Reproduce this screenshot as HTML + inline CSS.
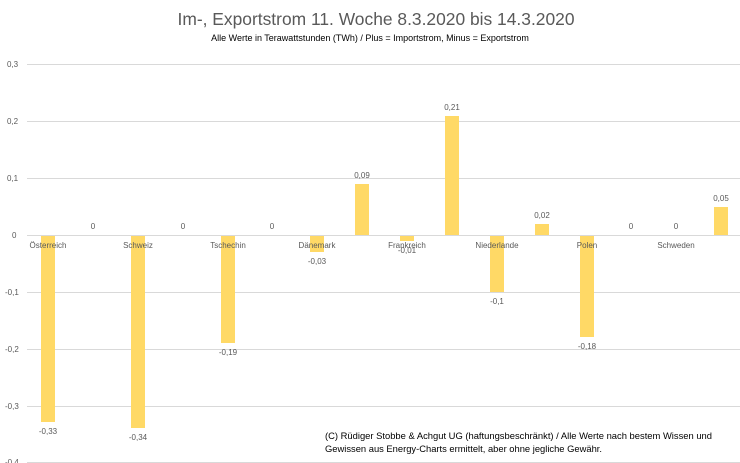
<!DOCTYPE html>
<html><head><meta charset="utf-8"><style>
body{margin:0;background:#fff;}
svg{display:block;font-family:"Liberation Sans",sans-serif;}
</style></head><body>
<svg width="740" height="463" viewBox="0 0 740 463">
<rect width="740" height="463" fill="#fff"/>
<text x="376" y="25" text-anchor="middle" font-size="17.5" fill="#595959" textLength="397" lengthAdjust="spacingAndGlyphs">Im-, Exportstrom 11. Woche 8.3.2020 bis 14.3.2020</text>
<text x="370" y="41" text-anchor="middle" font-size="9" fill="#000">Alle Werte in Terawattstunden (TWh) / Plus = Importstrom, Minus = Exportstrom</text>
<g stroke="#d9d9d9" stroke-width="1">
<line x1="27" x2="740" y1="64.5" y2="64.5"/>
<line x1="27" x2="740" y1="121.5" y2="121.5"/>
<line x1="27" x2="740" y1="178.5" y2="178.5"/>
<line x1="27" x2="740" y1="292.5" y2="292.5"/>
<line x1="27" x2="740" y1="349.5" y2="349.5"/>
<line x1="27" x2="740" y1="406.5" y2="406.5"/>
<line x1="27" x2="740" y1="462.5" y2="462.5"/>
</g>
<g font-size="8" fill="#595959">
<text x="7" y="67">0,3</text><text x="7" y="124">0,2</text><text x="7" y="181">0,1</text>
<text x="12" y="238">0</text><text x="5" y="295">-0,1</text><text x="5" y="352">-0,2</text>
<text x="5" y="409">-0,3</text><text x="5" y="465">-0,4</text>
</g>
<g fill="#FFD966">
<rect x="41" y="235" width="14" height="187"/>
<rect x="131" y="235" width="14" height="193"/>
<rect x="221" y="235" width="14" height="108"/>
<rect x="310" y="235" width="14" height="17"/>
<rect x="355" y="184" width="14" height="51"/>
<rect x="400" y="235" width="14" height="6"/>
<rect x="445" y="116" width="14" height="119"/>
<rect x="490" y="235" width="14" height="57"/>
<rect x="535" y="224" width="14" height="11"/>
<rect x="580" y="235" width="14" height="102"/>
<rect x="714" y="207" width="14" height="28"/>
</g>
<line x1="27" x2="740" y1="235.5" y2="235.5" stroke="#d9d9d9"/>
<g font-size="8" fill="#595959" text-anchor="middle">
<text x="48" y="434">-0,33</text><text x="93" y="229">0</text>
<text x="138" y="440">-0,34</text><text x="183" y="229">0</text>
<text x="228" y="355">-0,19</text><text x="272" y="229">0</text>
<text x="317" y="264">-0,03</text><text x="362" y="178">0,09</text>
<text x="407" y="253">-0,01</text><text x="452" y="110">0,21</text>
<text x="497" y="304">-0,1</text><text x="542" y="218">0,02</text>
<text x="587" y="349">-0,18</text><text x="631" y="229">0</text>
<text x="676" y="229">0</text><text x="721" y="201">0,05</text>
<text x="48" y="248">Österreich</text><text x="138" y="248">Schweiz</text>
<text x="228" y="248">Tschechin</text><text x="317" y="248">Dänemark</text>
<text x="407" y="248">Frankreich</text><text x="497" y="248">Niederlande</text>
<text x="587" y="248">Polen</text><text x="676" y="248">Schweden</text>
</g>
<text x="325" y="439" font-size="9.2" fill="#000" textLength="387" lengthAdjust="spacingAndGlyphs">(C) Rüdiger Stobbe &amp; Achgut UG (haftungsbeschränkt) / Alle Werte nach bestem Wissen und</text>
<text x="325" y="452" font-size="9.2" fill="#000" textLength="277" lengthAdjust="spacingAndGlyphs">Gewissen aus Energy-Charts ermittelt, aber ohne jegliche Gewähr.</text>
</svg>
</body></html>
